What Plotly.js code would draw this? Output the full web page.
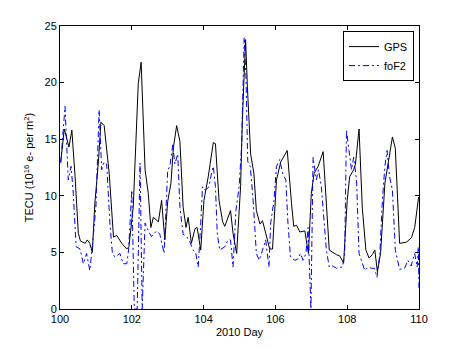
<!DOCTYPE html>
<html>
<head>
<meta charset="utf-8">
<script src="https://cdn.plot.ly/plotly-3.0.1.min.js"></script>
<style>
  html, body { margin: 0; padding: 0; background: #fff; }
  #tester { width: 463px; height: 349px; }
</style>
</head>
<body>
<div id="tester"></div>
<script>
var myDiv = document.getElementById('tester');

// GPS TEC (day of 2010, TECU)
var gpsDay = [100.02, 100.12, 100.25, 100.33, 100.42, 100.51, 100.57, 100.70, 100.76, 100.83, 100.90, 100.97,
  101.07, 101.14, 101.23, 101.30, 101.37, 101.49, 101.58, 101.72, 101.86, 101.92, 102.04, 102.18, 102.26,
  102.37, 102.46, 102.53, 102.60, 102.74, 102.83, 102.92, 103.00, 103.09, 103.16, 103.25, 103.34, 103.43,
  103.51, 103.57, 103.66, 103.76, 103.82, 103.92, 104.01, 104.13, 104.27, 104.33, 104.43, 104.53, 104.59,
  104.75, 104.82, 104.92, 105.03, 105.08, 105.17, 105.22, 105.31, 105.40, 105.47, 105.57, 105.64, 105.73,
  105.84, 105.92, 106.03, 106.15, 106.33, 106.45, 106.51, 106.59, 106.68, 106.82, 106.92, 107.00, 107.08,
  107.19, 107.33, 107.50, 107.60, 107.70, 107.79, 107.90, 108.00, 108.07, 108.18, 108.23, 108.33, 108.42,
  108.52, 108.61, 108.70, 108.77, 108.84, 108.93, 109.05, 109.14, 109.26, 109.34, 109.46, 109.65, 109.79,
  109.88, 109.99];
var gpsTec = [13.0, 15.9, 14.3, 15.8, 11.7, 6.7, 6.0, 5.8, 6.1, 5.8, 5.0, 9.3,
  13.0, 16.5, 16.2, 14.3, 12.0, 6.35, 6.5, 5.8, 5.3, 5.5, 9.0, 19.9, 21.8,
  12.3, 10.2, 7.2, 8.1, 7.7, 9.6, 6.1, 9.5, 11.1, 14.3, 16.2, 14.8, 9.0,
  7.2, 8.1, 5.8, 7.1, 7.2, 5.2, 9.6, 11.7, 14.7, 14.6, 9.6, 7.7, 7.3,
  8.7, 6.7, 4.9, 10.8, 16.7, 23.8, 19.6, 13.7, 12.0, 8.7, 7.5, 7.8, 6.7,
  5.3, 5.3, 11.4, 13.0, 14.0, 9.3, 7.3, 7.4, 6.8, 6.9, 4.9, 10.2, 12.0,
  12.6, 13.9, 5.2, 5.0, 4.8, 4.7, 4.05, 9.6, 11.7, 12.3, 12.8, 15.9, 9.0,
  5.2, 4.5, 4.8, 5.2, 3.3, 4.9, 11.1, 12.8, 15.2, 14.2, 5.8, 5.9, 6.3,
  7.2, 9.9];

// foF2-derived TEC
var fof2Day = [100.02, 100.14, 100.23, 100.31, 100.37, 100.45, 100.56, 100.65, 100.74, 100.83, 100.90, 101.00,
  101.09, 101.16, 101.23, 101.30, 101.39, 101.46, 101.53, 101.67, 101.76, 101.86, 101.91, 102.00, 102.07,
  102.15, 102.23, 102.29, 102.37, 102.46, 102.55, 102.69, 102.78, 102.90, 103.00, 103.06, 103.14, 103.20,
  103.28, 103.34, 103.43, 103.53, 103.62, 103.71, 103.78, 103.85, 103.92, 103.97, 104.05, 104.15, 104.22,
  104.27, 104.33, 104.38, 104.45, 104.59, 104.68, 104.75, 104.82, 104.90, 104.99, 105.06, 105.13, 105.18,
  105.23, 105.30, 105.38, 105.47, 105.55, 105.64, 105.73, 105.82, 105.87, 105.96, 106.03, 106.12, 106.20,
  106.29, 106.35, 106.42, 106.54, 106.62, 106.70, 106.77, 106.85, 106.91, 106.99, 107.05, 107.14, 107.20,
  107.28, 107.42, 107.50, 107.60, 107.70, 107.80, 107.87, 107.93, 107.98, 108.05, 108.12, 108.18, 108.26,
  108.33, 108.40, 108.49, 108.58, 108.67, 108.76, 108.83, 108.91, 108.98, 109.05, 109.11, 109.18, 109.26,
  109.34, 109.46, 109.60, 109.69, 109.78, 109.88, 109.95, 109.98, 110.00];
var fof2Tec = [12.9, 17.9, 11.4, 12.6, 10.2, 5.5, 5.3, 4.0, 4.9, 3.4, 5.5, 9.0,
  17.6, 12.3, 13.0, 12.8, 7.6, 4.9, 4.6, 4.9, 4.0, 4.0, 5.2, 10.5, 0,
  0, 12.9, 0, 7.6, 6.9, 6.4, 6.9, 6.6, 4.9, 12.3, 12.6, 14.5, 12.8,
  13.7, 9.0, 6.6, 6.4, 5.9, 5.2, 5.0, 3.7, 7.6, 10.8, 10.5, 10.8, 12.0,
  12.6, 10.8, 6.7, 5.2, 5.5, 6.1, 6.1, 3.7, 8.7, 10.8, 14.5, 24.0, 20.6,
  13.0, 12.6, 9.6, 4.9, 4.3, 5.2, 6.1, 3.7, 7.6, 9.6, 12.6, 13.2, 12.0,
  11.4, 7.6, 4.6, 4.3, 4.4, 4.9, 4.3, 4.9, 7.2, 0, 13.4, 11.4, 12.3,
  10.8, 5.2, 3.7, 3.8, 3.6, 3.7, 3.7, 4.9, 15.8, 14.0, 12.3, 13.4, 11.4,
  4.9, 4.3, 3.4, 3.7, 3.6, 3.6, 2.8, 4.9, 9.6, 12.6, 14.0, 11.7, 10.5,
  5.2, 3.5, 3.6, 4.3, 3.8, 4.9, 3.7, 5.5, 1.8];

var xTicks = [100, 102, 104, 106, 108, 110];
var yTicks = [0, 5, 10, 15, 20, 25];

var trace1 = {
  x: gpsDay,
  y: gpsTec,
  name: 'GPS',
  type: 'scatter',
  mode: 'lines',
  line: {color: '#000000', width: 1}
};
var trace2 = {
  x: fof2Day,
  y: fof2Tec,
  name: 'foF2',
  type: 'scatter',
  mode: 'lines',
  line: {color: '#0000ff', width: 1, dash: '6px,3px,2px,3px'}
};

var axisStyle = {
  showline: true,
  linecolor: '#000',
  linewidth: 1,
  mirror: 'ticks',
  ticks: 'inside',
  ticklen: 4,
  tickcolor: '#000',
  showgrid: false,
  zeroline: false,
  tickfont: {family: 'Liberation Sans, Arial, sans-serif', size: 11, color: '#000'}
};

var layout = {
  width: 463,
  height: 349,
  margin: {l: 60, r: 44, t: 26, b: 40},
  paper_bgcolor: '#fff',
  plot_bgcolor: '#fff',
  font: {family: 'Liberation Sans, Arial, sans-serif', size: 11, color: '#000'},
  xaxis: Object.assign({}, axisStyle, {
    range: [100, 110],
    tickvals: xTicks,
    ticktext: xTicks.map(String),
    title: {text: '2010 Day', font: {size: 11}, standoff: 4}
  }),
  yaxis: Object.assign({}, axisStyle, {
    range: [0, 25],
    tickvals: yTicks,
    ticktext: yTicks.map(String),
    title: {text: 'TECU (10<sup>16</sup> e- per m<sup>2</sup>)', font: {size: 11}, standoff: 8}
  }),
  showlegend: true,
  legend: {
    x: 0.986, xanchor: 'right',
    y: 0.982, yanchor: 'top',
    bgcolor: '#fff',
    bordercolor: '#000',
    borderwidth: 1,
    font: {size: 11},
    tracegroupgap: 0,
    itemwidth: 30
  }
};

Plotly.newPlot(myDiv, [trace1, trace2], layout, {displayModeBar: false, staticPlot: true});
</script>
</body>
</html>
